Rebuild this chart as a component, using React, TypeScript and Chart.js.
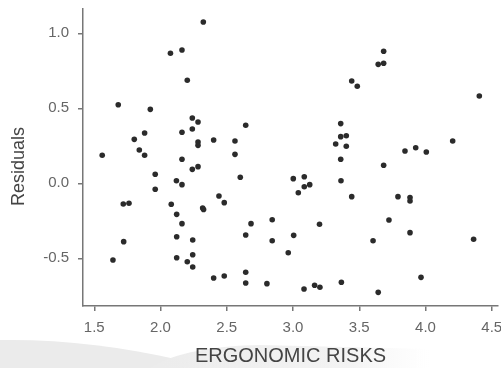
import React, { useEffect, useRef } from "react";
import { Chart, registerables } from "chart.js";

Chart.register(...registerables);

// ERGONOMIC RISKS (x) and Residuals (y)
const ergonomicRisks = [
  1.56, 1.681, 1.641, 1.722, 1.719, 1.762, 1.802, 1.84, 1.88, 1.88,
  1.923, 1.96, 1.96, 2.075, 2.162, 2.323, 2.202, 2.24, 2.283, 2.162,
  2.24, 2.283, 2.283, 2.401, 2.643, 2.562, 2.562, 2.162, 2.24, 2.283,
  2.12, 2.162, 2.602, 2.441, 2.481, 2.081, 2.318, 2.325, 2.122, 2.162,
  2.122, 2.243, 2.122, 2.243, 2.202, 2.243, 2.401, 2.481, 2.643, 2.683,
  2.643, 2.643, 2.803, 2.843, 2.843, 2.964, 3.005, 3.002, 3.085, 3.04,
  3.085, 3.126, 3.083, 3.163, 3.203, 3.2, 3.36, 3.36, 3.402, 3.322,
  3.402, 3.36, 3.362, 3.443, 3.365, 3.443, 3.485, 3.643, 3.684, 3.684,
  3.684, 3.845, 3.926, 4.006, 4.205, 4.406, 3.792, 3.883, 3.883, 3.724,
  3.883, 3.604, 4.363, 3.643, 3.966,
];
const residuals = [
  0.187, 0.524, -0.511, -0.389, -0.138, -0.133, 0.293, 0.222, 0.335, 0.187,
  0.493, 0.06, -0.04, 0.867, 0.889, 1.075, 0.687, 0.435, 0.409, 0.34,
  0.362, 0.275, 0.253, 0.289, 0.387, 0.282, 0.193, 0.16, 0.093, 0.111,
  0.017, -0.009, 0.04, -0.085, -0.129, -0.14, -0.165, -0.175, -0.207, -0.269,
  -0.356, -0.378, -0.496, -0.476, -0.523, -0.558, -0.631, -0.618, -0.345, -0.269,
  -0.593, -0.665, -0.669, -0.243, -0.383, -0.463, -0.347, 0.031, 0.044, -0.063,
  -0.023, -0.009, -0.705, -0.68, -0.693, -0.273, 0.398, 0.311, 0.317, 0.262,
  0.247, 0.16, 0.017, -0.089, -0.66, 0.682, 0.647, 0.793, 0.8, 0.88,
  0.12, 0.215, 0.237, 0.209, 0.282, 0.582, -0.089, -0.095, -0.118, -0.245,
  -0.329, -0.383, -0.373, -0.727, -0.627,
];
const xTicks = [1.5, 2.0, 2.5, 3.0, 3.5, 4.0, 4.5];
const yTicks = [-0.5, 0.0, 0.5, 1.0];
const xTitle = "ERGONOMIC RISKS";
const yTitle = "Residuals";

const FONT = "'Liberation Sans', Arial, Helvetica, sans-serif";

const swooshPlugin = {
  id: "swoosh",
  beforeDraw(chart: any) {
    const ctx = chart.ctx;
    ctx.save();
    ctx.fillStyle = "#ebebeb";
    ctx.beginPath();
    ctx.moveTo(0, 340);
    ctx.bezierCurveTo(60, 339, 120, 346, 180, 360);
    ctx.lineTo(180, 368);
    ctx.lineTo(0, 368);
    ctx.closePath();
    ctx.fill();
    const g = ctx.createLinearGradient(160, 0, 430, 0);
    g.addColorStop(0, "rgba(236,236,236,1)");
    g.addColorStop(0.7, "rgba(240,240,240,0.8)");
    g.addColorStop(1, "rgba(245,245,245,0)");
    ctx.fillStyle = g;
    ctx.beginPath();
    ctx.moveTo(150, 368);
    ctx.bezierCurveTo(175, 352, 215, 346, 260, 345);
    ctx.lineTo(430, 349);
    ctx.lineTo(430, 368);
    ctx.closePath();
    ctx.fill();
    ctx.restore();
  },
};

// y-axis title drawn as real canvas text, centred where the reference has it
const yTitlePlugin = {
  id: "yTitle",
  afterDraw(chart: any) {
    const ctx = chart.ctx;
    const area = chart.chartArea;
    ctx.save();
    ctx.font = `18px ${FONT}`;
    ctx.fillStyle = "#444444";
    ctx.textAlign = "center";
    ctx.textBaseline = "middle";
    ctx.translate(19, (area.top + area.bottom) / 2 + 9);
    ctx.rotate(-Math.PI / 2);
    ctx.fillText(yTitle, 0, 0);
    ctx.restore();
  },
};

export default function App() {
  const canvasRef = useRef<HTMLCanvasElement | null>(null);

  useEffect(() => {
    const canvas = canvasRef.current;
    if (!canvas) return;
    const points = ergonomicRisks.map((x, i) => ({ x, y: residuals[i] }));
    const chart = new Chart(canvas, {
      type: "scatter",
      data: {
        datasets: [
          {
            data: points,
            backgroundColor: "#2b2b2b",
            borderWidth: 0,
            pointRadius: 2.8,
            pointHoverRadius: 2.8,
          },
        ],
      },
      plugins: [swooshPlugin, yTitlePlugin],
      options: {
        responsive: false,
        animation: false,
        events: [],
        layout: { padding: { top: 9, right: 22, bottom: 0, left: 0 } },
        plugins: {
          legend: { display: false },
          tooltip: { enabled: false },
        },
        scales: {
          x: {
            type: "linear",
            min: 1.415,
            max: 4.547,
            afterBuildTicks: (s: any) => {
              s.ticks = xTicks.map((v) => ({ value: v }));
            },
            afterFit: (s: any) => {
              s.height = 62;
              s.paddingLeft = 0;
              s.paddingRight = 0;
              s.paddingTop = 0;
              s.paddingBottom = 0;
            },
            ticks: {
              callback: (v: any) => Number(v).toFixed(1),
              font: { family: FONT, size: 15 },
              color: "#666666",
              padding: 8,
              maxRotation: 0,
              autoSkip: false,
            },
            grid: {
              display: true,
              drawOnChartArea: false,
              drawTicks: true,
              tickLength: 5,
              color: "#777777",
              lineWidth: 1.5,
            },
            border: { display: true, color: "#777777", width: 1.5 },
            title: {
              display: true,
              text: xTitle,
              font: { family: FONT, size: 20 },
              color: "#444444",
              padding: { top: 0, bottom: 0 },
            },
          },
          y: {
            type: "linear",
            min: -0.818,
            max: 1.162,
            afterBuildTicks: (s: any) => {
              s.ticks = yTicks.map((v) => ({ value: v }));
            },
            afterFit: (s: any) => {
              s.width = 83;
              s.paddingLeft = 0;
              s.paddingRight = 0;
              s.paddingTop = 0;
              s.paddingBottom = 0;
            },
            ticks: {
              callback: (v: any) => Number(v).toFixed(1),
              font: { family: FONT, size: 15 },
              color: "#666666",
              padding: 9,
              autoSkip: false,
            },
            grid: {
              display: true,
              drawOnChartArea: false,
              drawTicks: true,
              tickLength: 5,
              color: "#777777",
              lineWidth: 1.5,
            },
            border: { display: true, color: "#777777", width: 1.5 },
            title: { display: false },
          },
        },
      },
    });
    return () => chart.destroy();
  }, []);

  return (
    <div
      style={{
        position: "fixed",
        left: 0,
        top: 0,
        width: 501,
        height: 368,
        overflow: "hidden",
        background: "#ffffff",
      }}
    >
      <canvas ref={canvasRef} width={520} height={368} style={{ display: "block" }} />
    </div>
  );
}
